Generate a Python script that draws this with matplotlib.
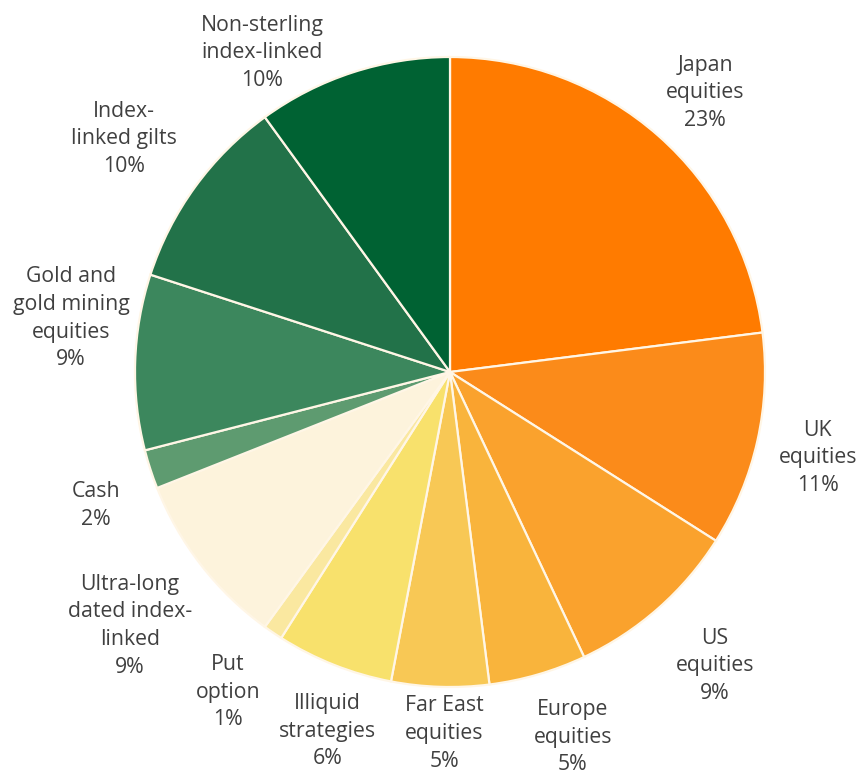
import numpy as np
import matplotlib
matplotlib.use("Agg")
import matplotlib.pyplot as plt

categories = ["Japan\nequities", "UK\nequities", "US\nequities", "Europe\nequities",
              "Far East\nequities", "Illiquid\nstrategies", "Put\noption",
              "Ultra-long\ndated index-\nlinked", "Cash", "Gold and\ngold mining\nequities",
              "Index-\nlinked gilts", "Non-sterling\nindex-linked"]
values = [23, 11, 9, 5, 5, 6, 1, 9, 2, 9, 10, 10]
colors = ["#FF7B00", "#FB8B1A", "#FAA22D", "#F9B43C", "#F8C855", "#F8E16C",
          "#FAE8A0", "#FDF3DC", "#5E9B70", "#3C875D", "#227249", "#006233"]
# label centres, in units of the pie radius
label_xy = [(0.810, 0.886), (1.168, -0.273), (0.841, -0.933), (0.390, -1.159),
            (-0.019, -1.148), (-0.390, -1.140), (-0.705, -1.016), (-1.016, -0.806),
            (-1.125, -0.425), (-1.203, 0.171), (-1.035, 0.740), (-0.597, 1.013)]

W, H = 860, 778
fig = plt.figure(figsize=(W / 100, H / 100), dpi=100)
cx, cy, r = 450, 372, 315
ax = fig.add_axes([(cx - r) / W, (H - cy - r) / H, 2 * r / W, 2 * r / H])

wedges, _ = ax.pie(values, colors=colors, startangle=90, counterclock=False,
                   wedgeprops=dict(edgecolor="#FFF6E6", linewidth=1.6))
ax.set_xlim(-1, 1)
ax.set_ylim(-1, 1)
ax.set_aspect("equal")
ax.axis("off")

for lab, v, (x, y) in zip(categories, values, label_xy):
    ax.text(x, y, f"{lab}\n{v}%", ha="center", va="center",
            fontsize=15.3, color="#404040", family=["Open Sans", "DejaVu Sans"],
            linespacing=1.43, clip_on=False)

fig.savefig("out.png", dpi=100)
